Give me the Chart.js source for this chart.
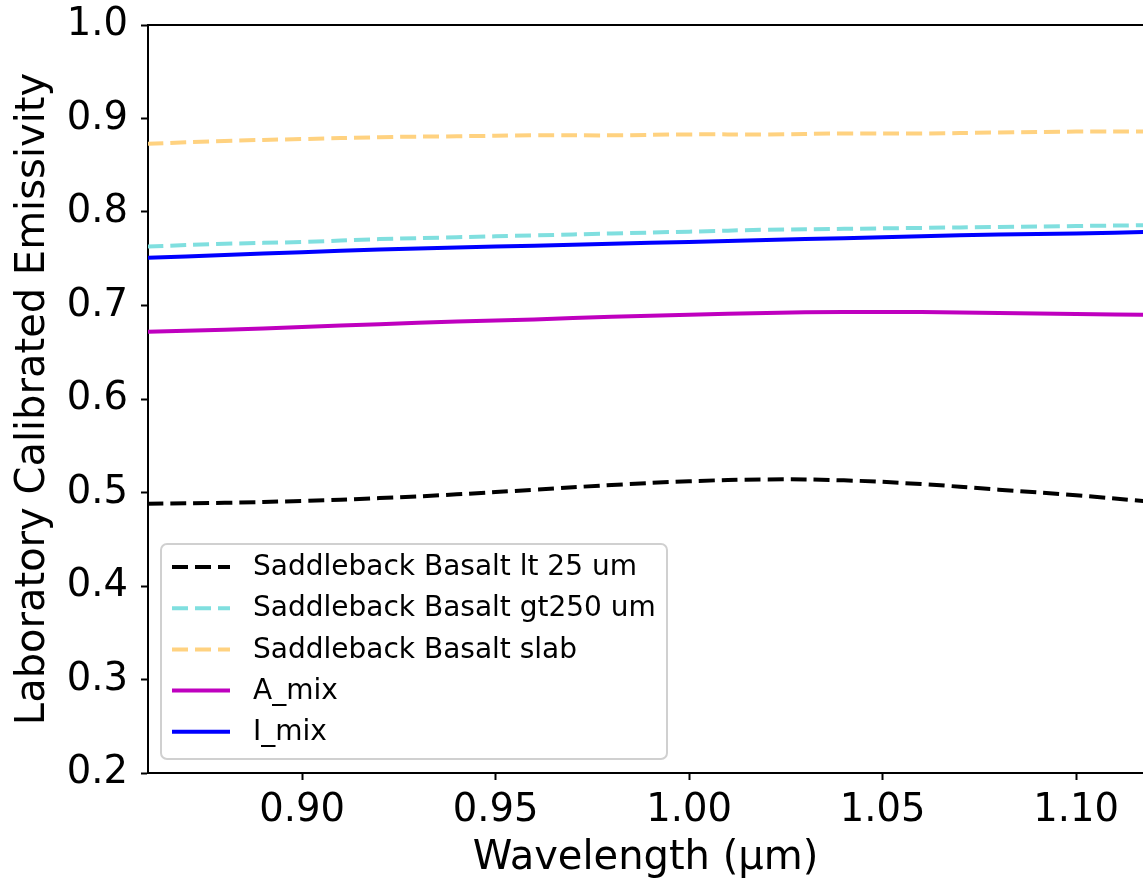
<!DOCTYPE html>
<html>
<head>
<meta charset="utf-8">
<script src="https://cdn.jsdelivr.net/npm/chart.js@4"></script>
<style>
  html, body { margin: 0; padding: 0; background: #fff; overflow: hidden; }
  canvas { display: block; }
</style>
</head>
<body>
<canvas id="emissivityChart" width="1143" height="879"></canvas>
<script>
const wavelengths = [0.86, 0.88, 0.90, 0.92, 0.94, 0.96, 0.98, 1.00, 1.02, 1.04, 1.06, 1.08, 1.10, 1.12];

const basaltLt25 = [0.488, 0.489, 0.491, 0.494, 0.498, 0.503, 0.508, 0.512, 0.514, 0.513, 0.509, 0.503, 0.497, 0.490];
const basaltGt250 = [0.763, 0.766, 0.768, 0.771, 0.773, 0.775, 0.777, 0.779, 0.781, 0.782, 0.783, 0.784, 0.785, 0.786];
const basaltSlab = [0.873, 0.876, 0.878, 0.880, 0.881, 0.882, 0.882, 0.883, 0.883, 0.884, 0.884, 0.885, 0.886, 0.886];
const aMix = [0.672, 0.674, 0.677, 0.680, 0.683, 0.685, 0.688, 0.690, 0.692, 0.693, 0.693, 0.692, 0.691, 0.690];
const iMix = [0.751, 0.754, 0.757, 0.760, 0.762, 0.764, 0.766, 0.768, 0.770, 0.772, 0.774, 0.776, 0.777, 0.779];

const xTicks = [0.90, 0.95, 1.00, 1.05, 1.10];
const yTicks = [0.2, 0.3, 0.4, 0.5, 0.6, 0.7, 0.8, 0.9, 1.0];

const FONT = "'DejaVu Sans', sans-serif";
const DASH = [16, 7];

const toPoints = values => values.map((y, i) => ({ x: wavelengths[i], y }));

const series = [
  { label: "Saddleback Basalt lt 25 um", values: basaltLt25, color: "#000000", dash: DASH },
  { label: "Saddleback Basalt gt250 um", values: basaltGt250, color: "#80dfdf", dash: DASH },
  { label: "Saddleback Basalt slab", values: basaltSlab, color: "#ffd280", dash: DASH },
  { label: "A_mix", values: aMix, color: "#bf00bf", dash: [] },
  { label: "I_mix", values: iMix, color: "#0000ff", dash: [] }
];

// top spine only (right side is cut off in the reference)
const topSpine = {
  id: "topSpine",
  afterDraw(chart) {
    const { ctx, chartArea } = chart;
    ctx.save();
    ctx.strokeStyle = "#000";
    ctx.lineWidth = 2;
    ctx.beginPath();
    ctx.moveTo(chartArea.left - 1, chartArea.top);
    ctx.lineTo(chartArea.right, chartArea.top);
    ctx.stroke();
    ctx.restore();
  }
};

// matplotlib-like legend in the lower left of the axes
const innerLegend = {
  id: "innerLegend",
  afterDatasetsDraw(chart) {
    const { ctx } = chart;
    const box = { x: 161, y: 544, w: 506, h: 215, r: 6 };
    ctx.save();
    ctx.fillStyle = "rgba(255,255,255,0.8)";
    ctx.strokeStyle = "#d0d0d0";
    ctx.lineWidth = 2;
    ctx.beginPath();
    ctx.roundRect(box.x, box.y, box.w, box.h, box.r);
    ctx.fill();
    ctx.stroke();

    ctx.font = "28px " + FONT;
    ctx.textBaseline = "middle";
    ctx.fillStyle = "#000";
    chart.data.datasets.forEach((ds, i) => {
      const y = 567 + i * 41.2;
      ctx.strokeStyle = ds.borderColor;
      ctx.lineWidth = 4;
      ctx.setLineDash(ds.borderDash || []);
      ctx.beginPath();
      ctx.moveTo(172, y);
      ctx.lineTo(230, y);
      ctx.stroke();
      ctx.setLineDash([]);
      ctx.fillText(ds.label, 253, y + 1);
    });
    ctx.restore();
  }
};

new Chart("emissivityChart", {
  type: "line",
  data: {
    datasets: series.map(s => ({
      label: s.label,
      data: toPoints(s.values),
      borderColor: s.color,
      backgroundColor: s.color,
      borderWidth: 4,
      borderDash: s.dash,
      pointRadius: 0,
      tension: 0.4,
      fill: false
    }))
  },
  options: {
    responsive: false,
    animation: false,
    layout: { padding: { top: 25, right: 0, left: 0, bottom: 0 } },
    plugins: {
      legend: { display: false },
      tooltip: { enabled: false }
    },
    scales: {
      x: {
        type: "linear",
        min: 0.8602,
        max: 1.1173,
        afterFit: scale => {
          scale.height = 106;
          scale.paddingLeft = 0;
          scale.paddingRight = 0;
        },
        afterBuildTicks: scale => { scale.ticks = xTicks.map(v => ({ value: v })); },
        border: { display: true, color: "#000", width: 2 },
        grid: { drawOnChartArea: false, drawTicks: true, tickLength: 7, tickColor: "#000", tickWidth: 2 },
        ticks: {
          color: "#000",
          padding: 8,
          maxRotation: 0,
          font: { family: FONT, size: 38.5, lineHeight: 1.2 },
          callback: v => v.toFixed(2)
        },
        title: {
          display: true,
          text: "Wavelength (µm)",
          color: "#000",
          padding: { top: 0, bottom: 0 },
          font: { family: FONT, size: 40, lineHeight: 1.0 }
        }
      },
      y: {
        type: "linear",
        min: 0.2,
        max: 1.0,
        afterFit: scale => {
          scale.width = 148;
          scale.paddingTop = 0;
          scale.paddingBottom = 0;
        },
        afterBuildTicks: scale => { scale.ticks = yTicks.map(v => ({ value: v })); },
        border: { display: true, color: "#000", width: 2 },
        grid: { drawOnChartArea: false, drawTicks: true, tickLength: 7, tickColor: "#000", tickWidth: 2 },
        ticks: {
          color: "#000",
          padding: 13,
          font: { family: FONT, size: 38.5, lineHeight: 1.2 },
          callback: v => v.toFixed(1)
        },
        title: {
          display: true,
          text: "Laboratory Calibrated Emissivity",
          color: "#000",
          padding: { top: 14, bottom: 0 },
          font: { family: FONT, size: 40, lineHeight: 1.0 }
        }
      }
    }
  },
  plugins: [topSpine, innerLegend]
});
</script>
</body>
</html>
